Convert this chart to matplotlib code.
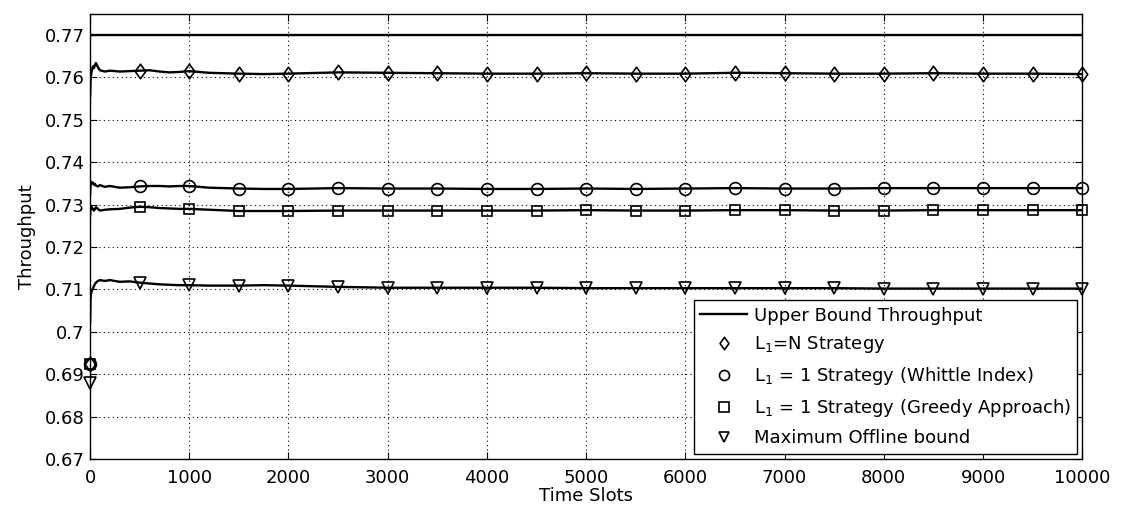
import matplotlib
matplotlib.use("Agg")
import matplotlib.pyplot as plt
from matplotlib.path import Path

# ---- data ----
upper_bound = 0.77
x_range = [0, 10000]

line_t = [1, 5, 10, 20, 30, 40, 50, 60, 80, 100, 150, 200, 300, 400, 500, 600, 700, 800,
          900, 1000, 1200, 1500, 1750, 2000, 2500, 3000, 3500, 4000, 4500, 5000, 5500,
          6000, 6500, 7000, 7500, 8000, 8500, 9000, 9500, 10000]

diamond_line = [0.7555, 0.7590, 0.7605, 0.7618, 0.7626, 0.7622, 0.7630, 0.7634, 0.7624, 0.7617,
                0.7614, 0.7616, 0.7614, 0.7615, 0.7616, 0.7617, 0.7614, 0.7612, 0.7613, 0.7615,
                0.7611, 0.7609, 0.7608, 0.7609, 0.7612, 0.7611, 0.7610, 0.7609, 0.7609, 0.7610,
                0.7609, 0.7609, 0.7611, 0.7610, 0.7609, 0.7609, 0.7610, 0.7609, 0.7609, 0.7608]

circle_line = [0.7325, 0.7345, 0.7354, 0.7350, 0.7352, 0.7347, 0.7349, 0.7345, 0.7343, 0.7346,
               0.7342, 0.7344, 0.7340, 0.7341, 0.7343, 0.7344, 0.7344, 0.7343, 0.7344, 0.7344,
               0.7340, 0.7338, 0.7337, 0.7337, 0.7339, 0.7338, 0.7338, 0.7337, 0.7337, 0.7338,
               0.7337, 0.7338, 0.7339, 0.7338, 0.7338, 0.7339, 0.7339, 0.7339, 0.7339, 0.7339]

square_line = [0.7275, 0.7290, 0.7297, 0.7293, 0.7289, 0.7286, 0.7290, 0.7294, 0.7290, 0.7286,
               0.7288, 0.7289, 0.7290, 0.7293, 0.7295, 0.7294, 0.7292, 0.7291, 0.7290, 0.7290,
               0.7288, 0.7285, 0.7285, 0.7285, 0.7286, 0.7286, 0.7286, 0.7286, 0.7286, 0.7287,
               0.7286, 0.7286, 0.7287, 0.7287, 0.7286, 0.7286, 0.7287, 0.7287, 0.7287, 0.7287]

triangle_line = [0.7021, 0.7075, 0.7090, 0.7098, 0.7102, 0.7108, 0.7113, 0.7116, 0.7120, 0.7122,
                 0.7120, 0.7122, 0.7118, 0.7119, 0.7116, 0.7114, 0.7112, 0.7111, 0.7110, 0.7110,
                 0.7109, 0.7109, 0.7110, 0.7109, 0.7106, 0.7104, 0.7104, 0.7104, 0.7104, 0.7103,
                 0.7103, 0.7103, 0.7103, 0.7103, 0.7103, 0.7102, 0.7102, 0.7102, 0.7102, 0.7102]

marker_t = [0, 500, 1000, 1500, 2000, 2500, 3000, 3500, 4000, 4500, 5000,
            5500, 6000, 6500, 7000, 7500, 8000, 8500, 9000, 9500, 10000]

diamond_marks = [0.6925, 0.7616, 0.7615, 0.7609, 0.7609, 0.7612, 0.7611, 0.7610, 0.7609, 0.7609,
                 0.7610, 0.7609, 0.7609, 0.7611, 0.7610, 0.7609, 0.7609, 0.7610, 0.7609, 0.7609, 0.7608]
circle_marks = [0.6925, 0.7343, 0.7344, 0.7338, 0.7337, 0.7339, 0.7338, 0.7338, 0.7337, 0.7337,
                0.7338, 0.7337, 0.7338, 0.7339, 0.7338, 0.7338, 0.7339, 0.7339, 0.7339, 0.7339, 0.7339]
square_marks = [0.6925, 0.7295, 0.7290, 0.7285, 0.7285, 0.7286, 0.7286, 0.7286, 0.7286, 0.7286,
                0.7287, 0.7286, 0.7286, 0.7287, 0.7287, 0.7286, 0.7286, 0.7287, 0.7287, 0.7287, 0.7287]
triangle_marks = [0.6880, 0.7116, 0.7110, 0.7109, 0.7109, 0.7106, 0.7104, 0.7104, 0.7104, 0.7104,
                  0.7103, 0.7103, 0.7103, 0.7103, 0.7103, 0.7103, 0.7102, 0.7102, 0.7102, 0.7102, 0.7102]

labels = ["Upper Bound Throughput",
          "L$_1$=N Strategy",
          "L$_1$ = 1 Strategy (Whittle Index)",
          "L$_1$ = 1 Strategy (Greedy Approach)",
          "Maximum Offline bound"]

x_ticks = list(range(0, 10001, 1000))
y_ticks = [0.67, 0.68, 0.69, 0.70, 0.71, 0.72, 0.73, 0.74, 0.75, 0.76, 0.77]
y_tick_labels = ["0.67", "0.68", "0.69", "0.7", "0.71", "0.72", "0.73", "0.74", "0.75", "0.76", "0.77"]

# ---- figure ----
plt.rcParams['font.family'] = ['DejaVu Sans']
plt.rcParams['mathtext.fontset'] = 'dejavusans'
fs = 13
fig = plt.figure(figsize=(11.25, 5.14), dpi=100)
ax = fig.add_axes([0.080, 0.107, 0.882, 0.866])

# MATLAB-like diamond (wider than 'd', narrower than 'D')
diamond = Path([(0, 1), (0.72, 0), (0, -1), (-0.72, 0), (0, 1)],
               [Path.MOVETO, Path.LINETO, Path.LINETO, Path.LINETO, Path.CLOSEPOLY])

lw = 1.7
ax.plot(x_range, [upper_bound, upper_bound], color='black', lw=lw, label=labels[0])

series = [(diamond_line, diamond_marks, diamond, labels[1], 10.5),
          (circle_line, circle_marks, 'o', labels[2], 8.5),
          (square_line, square_marks, 's', labels[3], 7.8),
          (triangle_line, triangle_marks, 'v', labels[4], 9.0)]
for line_vals, mark_vals, mk, lab, size in series:
    ax.plot(line_t, line_vals, color='black', lw=lw)
    ax.plot(marker_t, mark_vals, linestyle='none', marker=mk, markersize=size,
            markerfacecolor='none', markeredgecolor='black', markeredgewidth=1.2,
            label=lab, clip_on=False)

ax.set_xlim(0, 10000)
ax.set_ylim(0.67, 0.775)
ax.set_xticks(x_ticks)
ax.set_yticks(y_ticks)
ax.set_yticklabels(y_tick_labels)
ax.tick_params(direction='in', labelsize=fs, length=5, width=0.8, top=True, right=True)
ax.tick_params(axis='x', pad=7)
ax.tick_params(axis='y', pad=4)
ax.grid(True, linestyle=(0, (1, 3)), color='black', linewidth=0.8)
for s in ax.spines.values():
    s.set_linewidth(1.0)

ax.set_xlabel("Time Slots", fontsize=fs, labelpad=0)
ax.set_ylabel("Throughput", fontsize=fs, labelpad=6)

leg = ax.legend(loc='lower right', fontsize=fs, frameon=True, fancybox=False,
                edgecolor='black', framealpha=1, handlelength=2.6, borderpad=0.35,
                labelspacing=0.55, borderaxespad=0.3, handletextpad=0.35,
                markerscale=0.85)
leg.get_frame().set_linewidth(1.0)

fig.savefig("out.png", dpi=100)
